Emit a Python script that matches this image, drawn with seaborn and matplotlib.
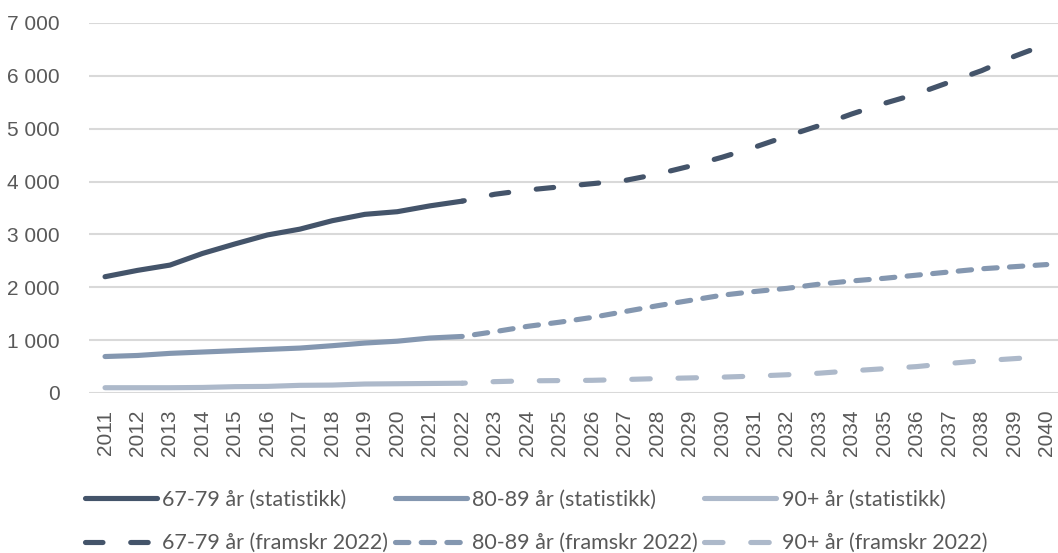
import numpy as np
import pandas as pd
import matplotlib.pyplot as plt
import seaborn as sns

# data
years_stat = list(range(2011, 2023))
years_proj = list(range(2022, 2041))

stat_67_79 = [2200, 2320, 2420, 2640, 2820, 2990, 3100, 3260, 3380, 3430, 3540, 3630]
stat_80_89 = [690, 710, 750, 775, 800, 825, 850, 895, 945, 980, 1040, 1070]
stat_90 = [100, 100, 100, 105, 120, 125, 145, 150, 170, 175, 180, 185]

proj_67_79 = [3630, 3760, 3840, 3900, 3960, 4020, 4140, 4290, 4460, 4650, 4860,
              5060, 5280, 5480, 5660, 5880, 6100, 6370, 6600]
proj_80_89 = [1070, 1160, 1260, 1340, 1430, 1540, 1650, 1750, 1850, 1920, 1980,
              2060, 2120, 2170, 2230, 2290, 2350, 2390, 2430]
proj_90 = [185, 215, 230, 235, 240, 255, 272, 285, 300, 320, 345,
           375, 420, 460, 500, 560, 610, 650, 690]

labels_stat = ["67-79 år (statistikk)", "80-89 år (statistikk)", "90+ år (statistikk)"]
labels_proj = ["67-79 år (framskr 2022)", "80-89 år (framskr 2022)", "90+ år (framskr 2022)"]
colors = ["#44546A", "#8497B0", "#ADB9CA"]
# dash patterns in units of linewidth, and offsets so each projection starts with a gap
dash_patterns = [(3.4, 5.4), (2.6, 2.4), (3.6, 5.4)]
dash_offsets = [3.0, 2.6, 3.0]

sns.set_style("white")
plt.rcParams['font.family'] = ['Liberation Sans', 'DejaVu Sans']

fig = plt.figure(figsize=(10.58, 5.53), dpi=100)
ax = fig.add_axes([88.8 / 1058, 1 - 393 / 553, (1063 - 88.8) / 1058, 370 / 553])

lw = 3.7
stats = [stat_67_79, stat_80_89, stat_90]
projs = [proj_67_79, proj_80_89, proj_90]
for i in range(3):
    df = pd.DataFrame({"year": years_stat, "value": stats[i]})
    sns.lineplot(data=df, x="year", y="value", ax=ax, color=colors[i], lw=lw,
                 label=labels_stat[i], solid_capstyle="round")
    dfp = pd.DataFrame({"year": years_proj, "value": projs[i]})
    sns.lineplot(data=dfp, x="year", y="value", ax=ax, color=colors[i], lw=lw,
                 label=labels_proj[i])
    ax.lines[-1].set_linestyle((dash_offsets[i], dash_patterns[i]))
    ax.lines[-1].set_dash_capstyle("round")

ax.set_xlim(2010.5, 2040.5)
ax.set_ylim(0, 7000)
ax.set_yticks(range(0, 7001, 1000))
ax.set_yticklabels([f"{v:,}".replace(",", " ") for v in range(0, 7001, 1000)])
ax.set_xticks(range(2011, 2041))
ax.set_xticklabels([str(y) for y in range(2011, 2041)], rotation=90)
ax.tick_params(axis="both", length=0, colors="#595959", labelsize=15)
ax.tick_params(axis="y", pad=21)
ax.tick_params(axis="x", pad=12)
ax.set_xlabel("")
ax.set_ylabel("")
ax.yaxis.grid(True, color="#D9D9D9", lw=1.5)
ax.set_axisbelow(True)
for s in ax.spines.values():
    s.set_visible(False)

h, l = ax.get_legend_handles_labels()
leg = ax.legend(h, l, ncol=3,
                loc="upper left", bbox_to_anchor=(76 / 1058, 1 - 481 / 553),
                bbox_transform=fig.transFigure, frameon=False,
                handlelength=3.35, handletextpad=0.25, columnspacing=0.3,
                labelspacing=1.1, borderaxespad=0,
                prop={"family": ["Lato", "DejaVu Sans"], "size": 15.5})
for t in leg.get_texts():
    t.set_color("#595959")
# legend handles: projections start with a dash
leg_lines = leg.get_lines()
for i in range(3):
    leg_lines[2 * i + 1].set_linestyle((0, dash_patterns[i]))

fig.savefig("out.png", dpi=100)
